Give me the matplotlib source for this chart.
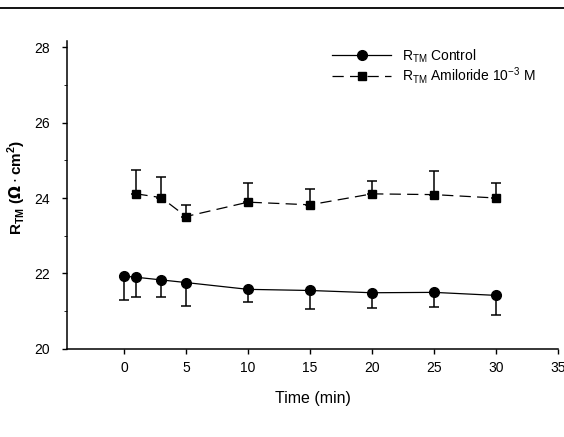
import matplotlib.pyplot as plt
import numpy as np

# Data
t_control = [0, 1, 3, 5, 10, 15, 20, 25, 30]
r_control = [21.93, 21.90, 21.83, 21.76, 21.58, 21.55, 21.49, 21.50, 21.42]
low_control = [21.31, 21.39, 21.39, 21.15, 21.25, 21.05, 21.09, 21.11, 20.90]

t_amil = [1, 3, 5, 10, 15, 20, 25, 30]
r_amil = [24.11, 24.01, 23.51, 23.89, 23.82, 24.11, 24.09, 24.00]
high_amil = [24.74, 24.56, 23.81, 24.39, 24.25, 24.45, 24.72, 24.41]

x_ticks = [0, 5, 10, 15, 20, 25, 30, 35]
y_ticks = [20, 22, 24, 26, 28]

plt.rcParams['font.family'] = ['Liberation Sans', 'DejaVu Sans']

fig = plt.figure(figsize=(5.64, 4.37), dpi=100)
ax = fig.add_axes([0.1188, 0.2014, 0.8706, 0.7048])

# error bars (one-sided, as in the original)
err_c = [np.array(r_control) - np.array(low_control), np.zeros(len(r_control))]
err_a = [np.zeros(len(r_amil)), np.array(high_amil) - np.array(r_amil)]

ax.errorbar(t_control, r_control, yerr=err_c, fmt='none', ecolor='black',
            elinewidth=1.1, capsize=3.6, capthick=1.1)
ax.errorbar(t_amil, r_amil, yerr=err_a, fmt='none', ecolor='black',
            elinewidth=1.1, capsize=3.6, capthick=1.1)

ax.plot(t_control, r_control, color='black', lw=0.9, marker='o', ms=7,
        label=r'R$_{\mathregular{TM}}$ Control')
ax.plot(t_amil, r_amil, color='black', lw=0.9, ls=(0, (9, 5)), marker='s', ms=6,
        label=r'R$_{\mathregular{TM}}$ Amiloride 10$^{\mathregular{-3}}$ M')

ax.set_xlim(-4.6, 35)
ax.set_ylim(20, 28.16)
ax.set_xticks(x_ticks)
ax.set_yticks(y_ticks)
ax.set_yticks([21, 23, 25, 27], minor=True)
ax.tick_params(axis='both', direction='out', length=3.5, width=1, labelsize=10)
ax.tick_params(axis='x', pad=5)
ax.tick_params(axis='y', pad=9)
ax.tick_params(axis='y', which='minor', direction='out', length=2, width=0.6)
ax.spines['top'].set_visible(False)
ax.spines['right'].set_visible(False)
ax.spines['left'].set_linewidth(1.1)
ax.spines['bottom'].set_linewidth(1.1)

ax.set_xlabel('Time (min)', fontsize=11.5, labelpad=12)
ax.set_ylabel(r'R$_{\mathregular{TM}}$ ($\mathbf{\Omega}\cdot$cm$^{\mathregular{2}}$)',
              fontsize=11, fontweight='bold')
ax.yaxis.set_label_coords(-0.08, 0.525)

ax.legend(loc='upper left', bbox_to_anchor=(0.515, 1.02), frameon=False,
          fontsize=10, handlelength=4.2, handletextpad=0.8, labelspacing=0.05)

# horizontal rule across the top of the figure
fig.add_artist(plt.Line2D([0, 1], [1 - 8 / 437, 1 - 8 / 437], color='black', lw=1.3))

fig.savefig('out.png', dpi=100)
